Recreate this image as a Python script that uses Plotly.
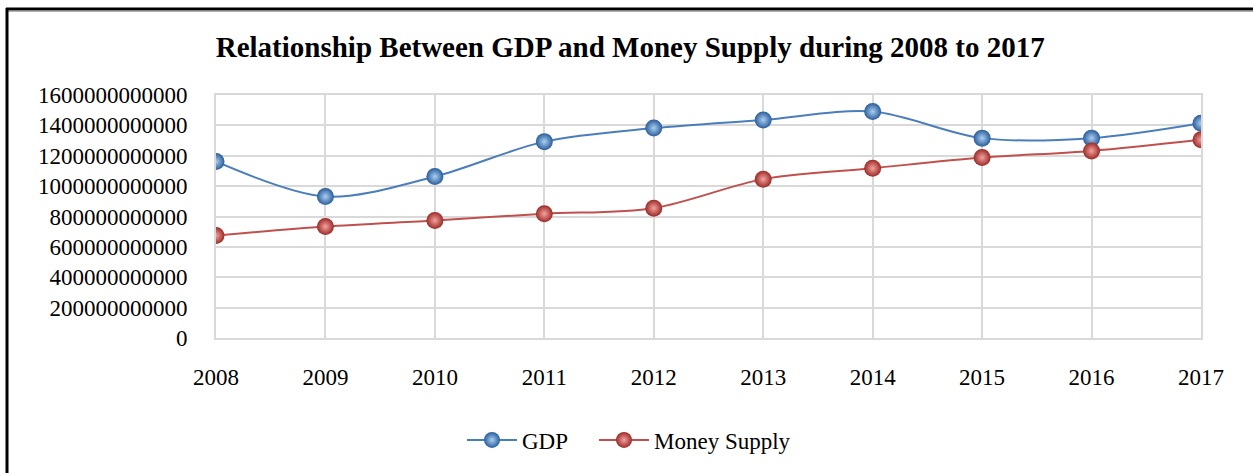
import plotly.graph_objects as go

years = ["2008", "2009", "2010", "2011", "2012", "2013", "2014", "2015", "2016", "2017"]
gdp = [1162e9, 931e9, 1063e9, 1293e9, 1382e9, 1436e9, 1491e9, 1316e9, 1316e9, 1414e9]
money_supply = [675e9, 734e9, 774e9, 818e9, 855e9, 1046e9, 1118e9, 1188e9, 1232e9, 1305e9]
y_ticks = [0, 200e9, 400e9, 600e9, 800e9, 1000e9, 1200e9, 1400e9, 1600e9]

FONT = "Liberation Serif"
W, H = 1253, 473
ML, MR, MT, MB = 216, 52, 95, 135
PW, PH = W - ML - MR, H - MT - MB


def px_x(px):
    return (px - ML) / PW


def px_y(py):
    return (H - MB - py) / PH


fig = go.Figure()
fig.add_trace(go.Scatter(
    x=years, y=gdp, name="GDP", mode="lines+markers", legend="legend",
    line=dict(color="#4a7ebb", width=2, shape="spline", smoothing=0.9),
    marker=dict(size=17, color="#2b5d9a", symbol="circle",
                gradient=dict(type="radial", color="#a9cff2"),
                line=dict(width=0)),
))
fig.add_trace(go.Scatter(
    x=years, y=money_supply, name="Money Supply", mode="lines+markers", legend="legend2",
    line=dict(color="#c0504d", width=2, shape="spline", smoothing=0.9),
    marker=dict(size=17, color="#9b2a27", symbol="circle",
                gradient=dict(type="radial", color="#f4a29f"),
                line=dict(width=0)),
))

shapes = [
    dict(type="line", xref="paper", yref="paper", x0=px_x(6), x1=px_x(1256),
         y0=px_y(9), y1=px_y(9), line=dict(color="black", width=3)),
    dict(type="line", xref="paper", yref="paper", x0=px_x(8), x1=px_x(1256),
         y0=px_y(11.5), y1=px_y(11.5), line=dict(color="#b0b0b0", width=1)),
    dict(type="line", xref="paper", yref="paper", x0=px_x(7), x1=px_x(7),
         y0=px_y(8), y1=px_y(476), line=dict(color="black", width=3)),
]

legend_common = dict(orientation="h", xanchor="left", y=px_y(440), yanchor="middle",
                     font=dict(family=FONT, size=23), itemwidth=50,
                     bgcolor="rgba(0,0,0,0)")

fig.update_layout(
    width=W, height=H,
    margin=dict(l=ML, r=MR, t=MT, b=MB),
    paper_bgcolor="white", plot_bgcolor="white",
    font=dict(family=FONT, size=23, color="black"),
    title=dict(text="<b>Relationship Between GDP and Money Supply during 2008 to 2017</b>",
               x=0.503, xanchor="center", y=1 - 47 / H, yanchor="middle",
               yref="container", font=dict(family=FONT, size=29, color="black")),
    xaxis=dict(type="category", range=[0, 9], showgrid=True, gridcolor="#d9d9d9",
               gridwidth=1.5, showline=True, linecolor="#d9d9d9", linewidth=2,
               mirror=True, ticks="", ticklabelstandoff=17, zeroline=False,
               tickfont=dict(family=FONT, size=23)),
    yaxis=dict(range=[0, 1.6e12], tickvals=y_ticks, tickformat="d",
               showgrid=True, gridcolor="#d9d9d9", gridwidth=1.5,
               showline=True, linecolor="#d9d9d9", linewidth=2, mirror=True,
               ticks="", ticklabelstandoff=22, zeroline=False,
               tickfont=dict(family=FONT, size=23)),
    legend=dict(x=px_x(462), **legend_common),
    legend2=dict(x=px_x(594), **legend_common),
    shapes=shapes,
    showlegend=True,
)

fig.write_html("out.html", config={"displayModeBar": False},
               post_script="document.body.style.margin='0';document.body.style.overflow='hidden';")
